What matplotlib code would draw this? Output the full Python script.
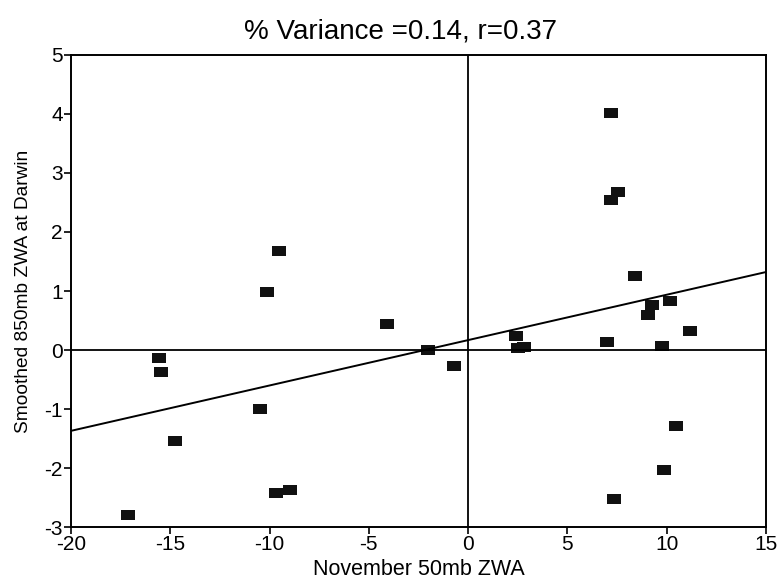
import numpy as np
import matplotlib
matplotlib.use("Agg")
import matplotlib.pyplot as plt
from matplotlib.path import Path

plt.rcParams['font.family'] = ['Liberation Sans', 'DejaVu Sans']
plt.rcParams['axes.unicode_minus'] = False

# November 50mb ZWA vs smoothed 850mb ZWA at Darwin
zwa50 = [7.2, 7.57, 7.18, 8.4, 9.28, 10.17, 9.07, 11.17, 2.42, 2.5, 2.8, 7.01,
         9.78, -0.72, 10.45, 9.86, 7.35, -9.55, -10.15, -4.09, -2.0, -15.55,
         -15.45, -10.47, -14.75, -9.68, -8.99, -17.15]
zwa850 = [4.01, 2.67, 2.54, 1.26, 0.77, 0.83, 0.59, 0.33, 0.24, 0.03, 0.05, 0.13,
          0.06, -0.27, -1.28, -2.03, -2.53, 1.68, 0.98, 0.44, 0.0, -0.14,
          -0.37, -1.0, -1.54, -2.42, -2.37, -2.8]

# regression line as drawn in the original
fit_slope = 0.0769
fit_icpt = 0.168

x_ticks = [-20, -15, -10, -5, 0, 5, 10, 15]
y_ticks = [-3, -2, -1, 0, 1, 2, 3, 4, 5]

fig = plt.figure(figsize=(7.81, 5.88), dpi=100)
ax = fig.add_axes([0.0909, 0.1037, 0.8899, 0.8028])

# wide little rectangle like the original symbol
box = Path([(-1.35, -1), (1.35, -1), (1.35, 1), (-1.35, 1), (-1.35, -1)])
ax.plot(zwa50, zwa850, linestyle='none', marker=box, ms=9.5, color='#111111',
        markeredgewidth=0)

xl = np.array([-20, 15])
ax.plot(xl, fit_slope * xl + fit_icpt, color='black', lw=1.4)

ax.axhline(0, color='black', lw=1.3)
ax.axvline(0, color='black', lw=1.3)

ax.set_xlim(-20, 15)
ax.set_ylim(-3, 5)
ax.set_xticks(x_ticks)
ax.set_yticks(y_ticks)
ax.tick_params(direction='out', length=5, width=1.2, labelsize=15, pad=1)
for s in ax.spines.values():
    s.set_linewidth(1.4)

ax.set_xlabel("November 50mb ZWA", fontsize=15.5, labelpad=3)
ax.set_ylabel("Smoothed 850mb ZWA at Darwin", fontsize=13.8, labelpad=9)
ax.set_title("% Variance =0.14, r=0.37", fontsize=20, pad=12, x=0.474)

fig.savefig("out.png", dpi=100)
